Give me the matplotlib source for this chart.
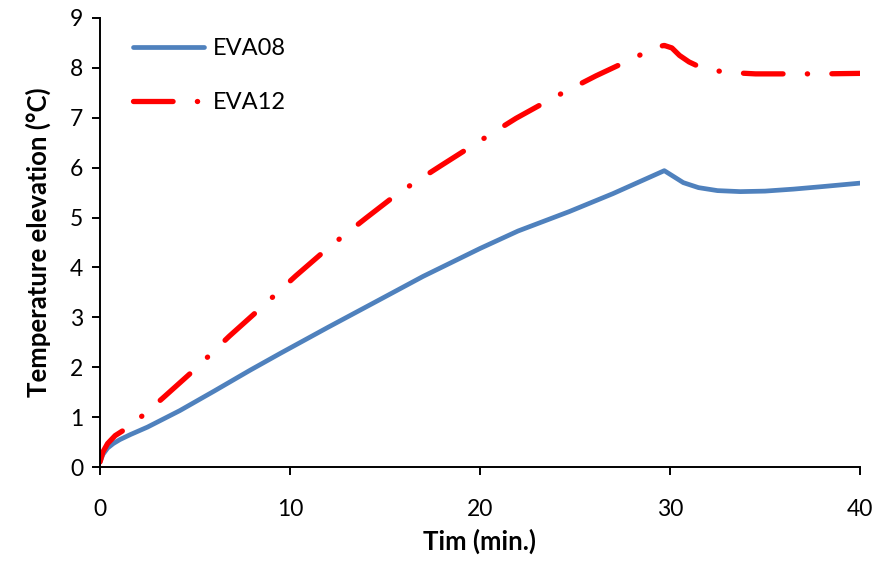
import numpy as np
import matplotlib.pyplot as plt

plt.rcParams['font.family'] = ['Lato', 'DejaVu Sans']

# EVA08 (solid blue)
t08 = [0, 0.15, 0.4, 0.7, 1.05, 1.6, 2.5, 4.2, 6.0, 7.9, 9.5, 12.0, 14.7, 17.0, 20.0, 22.0,
       24.7, 27.0, 29.7, 30.2, 30.7, 31.5, 32.5, 33.7, 35.0, 36.5, 38.0, 40.0]
v08 = [0.1, 0.25, 0.38, 0.47, 0.55, 0.65, 0.8, 1.13, 1.52, 1.94, 2.28, 2.8, 3.35, 3.82, 4.38, 4.73,
       5.12, 5.48, 5.94, 5.82, 5.7, 5.6, 5.54, 5.52, 5.53, 5.57, 5.62, 5.69]

# EVA12 (dash-dot red)
t12 = [0, 0.15, 0.4, 0.8, 1.5, 2.4, 3.3, 5.0, 6.8, 8.5, 10.3, 12.0, 14.0, 15.7, 17.9, 19.8,
       21.9, 23.8, 26.1, 28.0, 29.3, 29.7, 30.1, 30.5, 31.0, 31.5, 32.0, 33.0, 34.5, 36.0, 38.0, 40.0]
v12 = [0.1, 0.3, 0.47, 0.63, 0.8, 1.08, 1.38, 1.96, 2.62, 3.2, 3.83, 4.39, 4.99, 5.49, 6.03, 6.49,
       6.99, 7.39, 7.84, 8.18, 8.42, 8.45, 8.4, 8.25, 8.12, 8.03, 7.97, 7.91, 7.88, 7.88, 7.88, 7.89]

fig = plt.figure(figsize=(8.79, 5.62), dpi=100)
ax = fig.add_axes([100/879, 95/562, 760/879, 449/562])

ax.plot(t08, v08, color='#4F81BD', lw=3.4, label='EVA08', solid_capstyle='round',
        solid_joinstyle='round')
ax.plot(t12, v12, color='#FF0000', lw=3.8, label='EVA12',
        dashes=(7.5, 4.6, 0.05, 4.6), dash_capstyle='round', dash_joinstyle='round')

ax.set_xlim(0, 40)
ax.set_ylim(0, 9)
ax.set_xticks([0, 10, 20, 30, 40])
ax.set_yticks(range(10))
for s in ['top', 'right']:
    ax.spines[s].set_visible(False)
for s in ['left', 'bottom']:
    ax.spines[s].set_linewidth(1.4)
ax.tick_params(direction='out', length=6, width=1.4, labelsize=16.5)
ax.tick_params(axis='x', pad=17)
ax.tick_params(axis='y', pad=6)
ax.set_xlabel('Tim (min.)', fontsize=18.5, fontweight='bold', labelpad=6)
ax.set_ylabel('Temperature elevation (°C)', fontsize=18.5, fontweight='bold', labelpad=14)

ax.legend(loc='upper left', frameon=False, fontsize=17, handlelength=3.0,
          handletextpad=0.4, bbox_to_anchor=(0.017, 1.0), labelspacing=1.4,
          borderaxespad=0.45)

fig.savefig('out.png', dpi=100)
